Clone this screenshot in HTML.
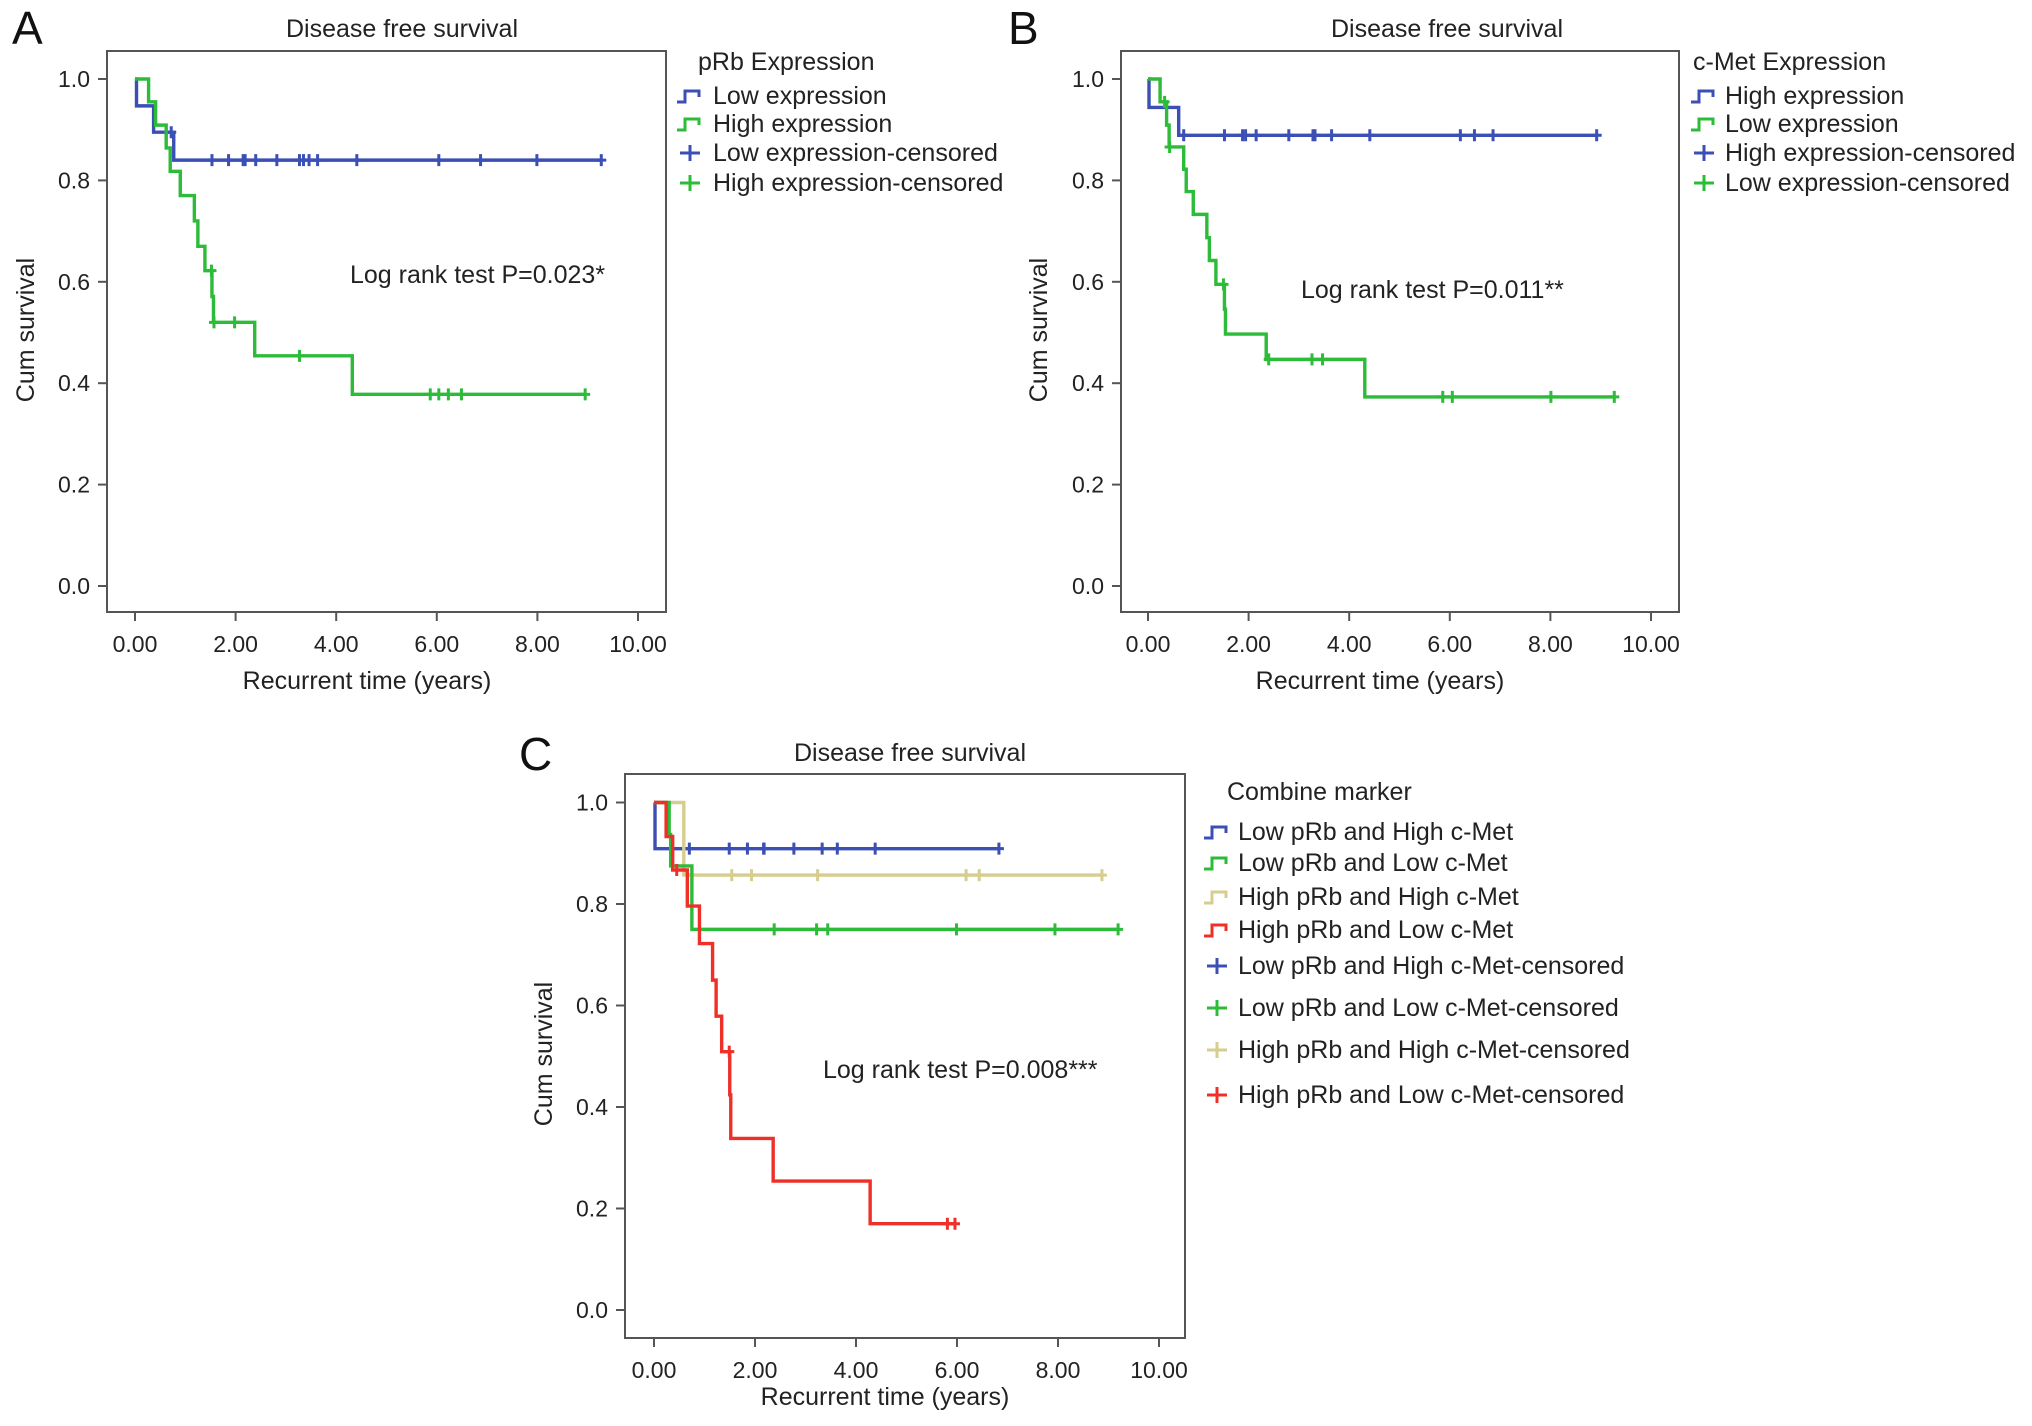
<!DOCTYPE html>
<html><head><meta charset="utf-8">
<style>
html,body{margin:0;padding:0;background:#fff;}
svg{display:block;font-family:"Liberation Sans",Arial,sans-serif;}
</style></head>
<body>
<svg id="fig" width="2032" height="1426" viewBox="0 0 2032 1426" xmlns="http://www.w3.org/2000/svg">
<rect width="2032" height="1426" fill="#fff"/>
</svg>
<script>
// Panel A data
const aLowTimes=[0.03,0.37,0.77];
const aLowSurv=[0.947,0.895,0.84];
const aLowCens=[0.72,1.53,1.86,2.15,2.19,2.4,2.82,3.27,3.35,3.46,3.63,4.41,6.04,6.87,7.99,9.27];
const aHighTimes=[0.27,0.41,0.62,0.7,0.9,1.18,1.25,1.39,1.53,1.56,2.38,4.32];
const aHighSurv=[0.955,0.909,0.864,0.818,0.77,0.72,0.67,0.622,0.571,0.52,0.454,0.378];
const aHighCens=[1.52,1.57,1.98,3.27,5.87,6.04,6.23,6.49,8.95];
// Panel B data
const bHighTimes=[0.02,0.61];
const bHighSurv=[0.944,0.889];
const bHighCens=[0.71,1.52,1.88,1.94,2.15,2.8,3.28,3.32,3.65,4.41,6.21,6.49,6.86,8.92];
const bLowTimes=[0.24,0.37,0.42,0.71,0.76,0.9,1.17,1.22,1.35,1.52,1.54,2.35,4.31];
const bLowSurv=[0.955,0.909,0.866,0.822,0.778,0.733,0.687,0.642,0.595,0.546,0.497,0.447,0.373];
const bLowCens=[0.33,0.43,1.5,2.4,3.26,3.47,5.86,6.05,8.01,9.27];
// Panel C data
const cLHTimes=[0.02];
const cLHSurv=[0.909];
const cLHCens=[0.7,1.49,1.85,2.17,2.18,2.77,3.33,3.63,4.38,6.83];
const cLLTimes=[0.3,0.33,0.75];
const cLLSurv=[0.937,0.875,0.75];
const cLLCens=[2.38,3.22,3.44,5.99,7.94,9.19];
const cHHTimes=[0.59];
const cHHSurv=[0.857];
const cHHCens=[1.54,1.93,3.24,6.18,6.44,8.87];
const cHLTimes=[0.24,0.37,0.66,0.9,1.16,1.23,1.34,1.5,1.52,2.36,4.28];
const cHLSurv=[0.933,0.867,0.796,0.722,0.65,0.579,0.509,0.424,0.338,0.254,0.17];
const cHLCens=[0.45,1.49,5.81,5.96];
const xTicks=[0,2,4,6,8,10];
const xTickLabels=["0.00","2.00","4.00","6.00","8.00","10.00"];
const yTicks=[0,0.2,0.4,0.6,0.8,1.0];
const yTickLabels=["0.0","0.2","0.4","0.6","0.8","1.0"];

const BLUE="#3b4fb5",GREEN="#2dbb3a",YEL="#d6cd8e",RED="#ee3029";
const NS="http://www.w3.org/2000/svg";
const svg=document.getElementById('fig');
function mk(tag,attrs,parent,txt){const e=document.createElementNS(NS,tag);for(const k in attrs)e.setAttribute(k,attrs[k]);if(txt!==undefined)e.textContent=txt;(parent||svg).appendChild(e);return e;}

function panel(p){
  const g=mk('g',{});
  
  
  const xs=t=>p.x0+t*(p.x10-p.x0)/10;
  const ys=v=>p.y0+v*(p.y1-p.y0);
  const box=mk('rect',{x:p.bx,y:p.by,width:p.bw,height:p.bh,fill:'none',stroke:'#555','stroke-width':2},g);
  
  
  const bot=p.by+p.bh;
  xTicks.forEach((t,i)=>{
    mk('line',{x1:xs(t),x2:xs(t),y1:bot,y2:bot+9,stroke:'#555','stroke-width':2},g);
    const tl=mk('text',{x:xs(t),y:bot+40,'text-anchor':'middle','font-size':23,fill:'#222'},g,xTickLabels[i]);
    
    
  });
  yTicks.forEach((v,i)=>{
    mk('line',{x1:p.bx-9,x2:p.bx,y1:ys(v),y2:ys(v),stroke:'#555','stroke-width':2},g);
    const tl=mk('text',{x:p.bx-17,y:ys(v)+8,'text-anchor':'end','font-size':23,fill:'#222'},g,yTickLabels[i]);
    
    
  });
  const tt=mk('text',{x:p.tx,y:p.ty,'text-anchor':'middle','font-size':25,fill:'#222'},g,'Disease free survival');
  
  
  const lt=mk('text',{x:p.letX,y:p.letY,'font-size':46,fill:'#111'},g,p.letter);
  
  
  const xt=mk('text',{x:p.xtx,y:p.xty,'text-anchor':'middle','font-size':25,fill:'#222'},g,'Recurrent time (years)');
  
  
  const yt=mk('text',{x:0,y:0,'text-anchor':'middle','font-size':25,fill:'#222',transform:`translate(${p.ytx},${p.yty}) rotate(-90)`},g,'Cum survival');
  
  
  const lr=mk('text',{x:p.lrx,y:p.lry+8,'font-size':25,fill:'#222'},g,p.logrank);
  
  
  p.series.forEach(s=>{
    const surv=t=>{let v=1;s.times.forEach((tt,i)=>{if(tt<=t)v=s.surv[i];});return v;};
    let d=`M${xs(0)},${ys(1)}`;
    s.times.forEach((t,i)=>{d+=` H${xs(t)} V${ys(s.surv[i])}`;});
    const end=Math.max(s.times[s.times.length-1],...s.cens);
    d+=` H${xs(end)}`;
    const path=mk('path',{d:d,fill:'none',stroke:s.color,'stroke-width':3.4},g);
    
    
    s.cens.forEach(c=>{
      const cx=xs(c),cy=ys(surv(c));
      const m=mk('path',{d:`M${cx-5},${cy} H${cx+5} M${cx},${cy-6} V${cy+6}`,stroke:s.color,'stroke-width':3},g);
      
      
    });
  });
  const lg=mk('g',{},g);
  
  
  const ltl=mk('text',{x:p.lgTitleX,y:p.lgTitleY+8,'font-size':25,fill:'#222'},lg,p.lgTitle);
  
  
  p.legend.forEach((e,i)=>{
    const y=p.lgYs[i],ix=p.lgIconX;
    const d=e.cens?`M${ix+3},${y} H${ix+23} M${ix+13},${y-8} V${y+8}`:`M${ix},${y+6} H${ix+8} V${y-5} H${ix+22} V${y+1}`;
    const ic=mk('path',{d:d,fill:'none',stroke:e.color,'stroke-width':3},lg);
    
    
    const tx=mk('text',{x:p.lgTextX,y:y+8,'font-size':25,fill:'#222'},lg,e.label);
    
    
  });
}

panel({name:'panel-a',letter:'A',letX:12,letY:44,bx:107,by:51,bw:559,bh:561,x0:135,x10:638,y0:586,y1:79,
  tx:402,ty:37,xtx:367,xty:689,ytx:34,yty:330,lrx:350,lry:275,logrank:'Log rank test P=0.023*',
  series:[{id:'low-expression',color:BLUE,times:aLowTimes,surv:aLowSurv,cens:aLowCens},
          {id:'high-expression',color:GREEN,times:aHighTimes,surv:aHighSurv,cens:aHighCens}],
  lgTitle:'pRb Expression',lgTitleX:698,lgTitleY:62,lgIconX:677,lgTextX:713,lgYs:[96,124,153,183],
  legend:[{label:'Low expression',color:BLUE},{label:'High expression',color:GREEN},
          {label:'Low expression-censored',color:BLUE,cens:1},{label:'High expression-censored',color:GREEN,cens:1}]});

panel({name:'panel-b',letter:'B',letX:1008,letY:44,bx:1121,by:51,bw:558,bh:561,x0:1148,x10:1651,y0:586,y1:79,
  tx:1447,ty:37,xtx:1380,xty:689,ytx:1047,yty:330,lrx:1301,lry:290,logrank:'Log rank test P=0.011**',
  series:[{id:'high-cmet-expression',color:BLUE,times:bHighTimes,surv:bHighSurv,cens:bHighCens},
          {id:'low-cmet-expression',color:GREEN,times:bLowTimes,surv:bLowSurv,cens:bLowCens}],
  lgTitle:'c-Met Expression',lgTitleX:1693,lgTitleY:62,lgIconX:1691,lgTextX:1725,lgYs:[96,124,153,183],
  legend:[{label:'High expression',color:BLUE},{label:'Low expression',color:GREEN},
          {label:'High expression-censored',color:BLUE,cens:1},{label:'Low expression-censored',color:GREEN,cens:1}]});

panel({name:'panel-c',letter:'C',letX:519,letY:770,bx:625,by:774,bw:560,bh:564,x0:654,x10:1159,y0:1310,y1:802.5,
  tx:910,ty:761,xtx:885,xty:1405,ytx:552,yty:1054,lrx:823,lry:1070,logrank:'Log rank test P=0.008***',
  series:[{id:'low-prb-high-cmet',color:BLUE,times:cLHTimes,surv:cLHSurv,cens:cLHCens},
          {id:'high-prb-high-cmet',color:YEL,times:cHHTimes,surv:cHHSurv,cens:cHHCens},
          {id:'low-prb-low-cmet',color:GREEN,times:cLLTimes,surv:cLLSurv,cens:cLLCens},
          {id:'high-prb-low-cmet',color:RED,times:cHLTimes,surv:cHLSurv,cens:cHLCens}],
  lgTitle:'Combine marker',lgTitleX:1227,lgTitleY:792,lgIconX:1204,lgTextX:1238,lgYs:[832,863,897,930,966,1008,1050,1095],
  legend:[{label:'Low pRb and High c-Met',color:BLUE},{label:'Low pRb and Low c-Met',color:GREEN},
          {label:'High pRb and High c-Met',color:YEL},{label:'High pRb and Low c-Met',color:RED},
          {label:'Low pRb and High c-Met-censored',color:BLUE,cens:1},{label:'Low pRb and Low c-Met-censored',color:GREEN,cens:1},
          {label:'High pRb and High c-Met-censored',color:YEL,cens:1},{label:'High pRb and Low c-Met-censored',color:RED,cens:1}]});
</script>
</body></html>
